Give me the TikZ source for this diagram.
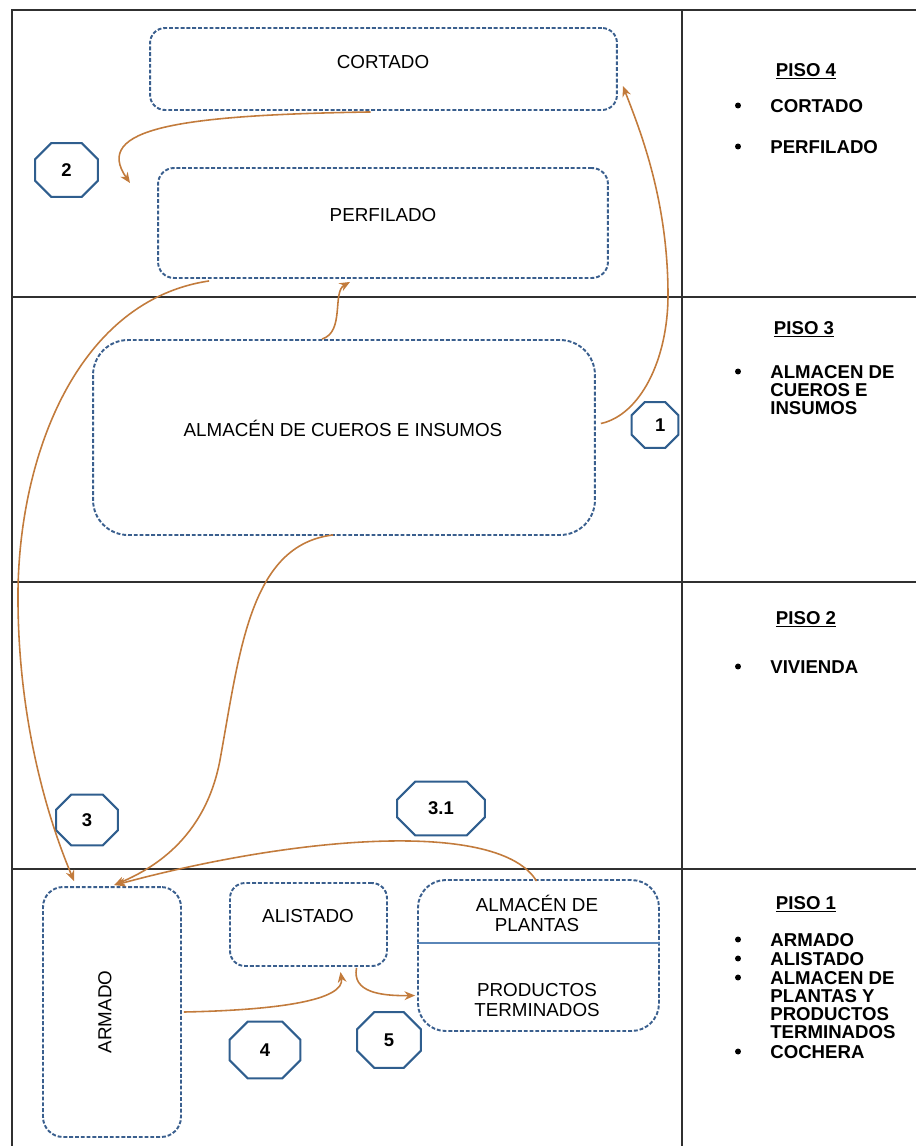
\documentclass[tikz,border=0pt]{standalone}
\usepackage{fontspec}
\setmainfont{Liberation Sans}
\usetikzlibrary{arrows.meta,calc}
\definecolor{boxblue}{HTML}{3A5F8E}
\definecolor{divblue}{HTML}{5A86B8}
\definecolor{octblue}{HTML}{2F5E8E}
\definecolor{arr}{HTML}{C27B3C}
\definecolor{gridc}{HTML}{303030}
\newcommand\octdraw[2]{\draw[octline] ($(#1.north west)+(#2,0)$) -- ($(#1.north east)+(-#2,0)$) -- ($(#1.north east)+(0,#2)$) -- ($(#1.south east)+(0,-#2)$) -- ($(#1.south east)+(-#2,0)$) -- ($(#1.south west)+(#2,0)$) -- ($(#1.south west)+(0,-#2)$) -- ($(#1.north west)+(0,#2)$) -- cycle;}
\begin{document}
\begin{tikzpicture}[x=0.02cm,y=-0.02cm,
  gridline/.style={draw=gridc,line width=0.9pt},
  pbox/.style={draw=boxblue,line width=1.1pt,dash pattern=on 2.2pt off 1.1pt,rectangle,inner sep=0pt},
  blbl/.style={font=\fontsize{10.7}{11.4}\selectfont,inner sep=0pt,align=center},
  oct/.style={rectangle,font=\bfseries\fontsize{10.5}{12}\selectfont,inner sep=0pt},
  octline/.style={draw=octblue,line width=1.2pt,line join=miter},
  flow/.style={draw=arr,line width=0.9pt,-{Stealth[length=6pt,width=5pt]}},
  rhead/.style={font=\bfseries\fontsize{10.6}{10.5}\selectfont,inner sep=0pt,anchor=base},
  ritem/.style={font=\bfseries\fontsize{10.6}{10.5}\selectfont,inner sep=0pt,anchor=base west},
  bul/.style={circle,fill=black,inner sep=0pt,minimum size=3.4pt}]

\useasboundingbox (0,0) rectangle (916,1146);

% table grid
\draw[gridline] (12,1146) -- (12,10) -- (916,10);
\draw[gridline] (682,10) -- (682,1146);
\draw[gridline] (12,297) -- (916,297);
\draw[gridline] (12,582) -- (916,582);
\draw[gridline] (12,869) -- (916,869);

% process boxes
\node[pbox,rounded corners=0.3cm,minimum width=9.34cm,minimum height=1.64cm] (cort) at (383.5,69) {};
\node[blbl] (cortt) at (383,62) {CORTADO};
\node[pbox,rounded corners=0.32cm,minimum width=9.0cm,minimum height=2.2cm] (perf) at (383,223) {};
\node[blbl] (perft) at (383,215) {PERFILADO};
\node[pbox,rounded corners=0.7cm,minimum width=10.04cm,minimum height=3.9cm] (alm) at (344,437.5) {};
\node[blbl] (almt) at (343,428) {ALMACÉN DE CUEROS E INSUMOS};
\node[pbox,rounded corners=0.4cm,minimum width=2.76cm,minimum height=5.0cm] (arm) at (112,1012) {};
\node[blbl,rotate=90] (armt) at (105,1012) {ARMADO};
\node[pbox,rounded corners=0.3cm,minimum width=3.14cm,minimum height=1.66cm] (ali) at (308.5,924.5) {};
\node[blbl] (alit) at (308,916) {ALISTADO};
\node[pbox,rounded corners=0.55cm,minimum width=4.82cm,minimum height=3.02cm] (plan) at (538.5,955.5) {};
\draw[draw=divblue,line width=1pt] (plan.west |- 0,943) -- (plan.east |- 0,943);
\node[blbl] (plant) at (537,913) {ALMACÉN DE\\PLANTAS};
\node[blbl] (prodt) at (537,1000) {PRODUCTOS\\TERMINADOS};

% step markers
\node[oct,minimum width=0.92cm,minimum height=0.9cm] (o1) at (655,425) {\phantom{0}1};
\octdraw{o1}{13}
\node[oct,minimum width=1.24cm,minimum height=1.06cm] (o2) at (66.5,170) {2};
\octdraw{o2}{16}
\node[oct,minimum width=1.22cm,minimum height=1.0cm] (o3) at (87,820) {3};
\octdraw{o3}{15}
\node[oct,minimum width=1.74cm,minimum height=1.06cm] (o31) at (441,808.5) {3.1};
\octdraw{o31}{18}
\node[oct,minimum width=1.4cm,minimum height=1.12cm] (o4) at (265,1050) {4};
\octdraw{o4}{18}
\node[oct,minimum width=1.26cm,minimum height=1.1cm] (o5) at (389,1040) {5};
\octdraw{o5}{17}

% flows
\coordinate (c2) at (130,183);
\draw[flow] ($(alm.east)+(5,-14)$) .. controls (640,415) and (668,360) .. (668,295)
   .. controls (668,200) and (640,130) .. ($(cort.east)+(5,17)$);
\draw[flow] ($(cort.south)+(-13,1)$) .. controls (180,115) and (92,128) .. (c2);
\draw[flow] ($(perf.south west)+(52,2)$) .. controls (80,300) and (20,450) .. (18,590)
   .. controls (17,700) and (40,800) .. ($(arm.north west)+(32,-5)$);
\draw[flow] ($(alm.south)+(-11,-1)$) .. controls (250,545) and (240,650) .. (220,760)
   .. controls (205,840) and (150,870) .. ($(arm.north)+(2,-1)$);
\draw[flow] ($(plan.north)+(-2,2)$) .. controls (500,820) and (300,835) .. ($(arm.north)+(3,-1)$);
\draw[flow] ($(alm.north)+(-22,0)$) .. controls (345,332) and (332,292) .. ($(perf.south)+(-33,3)$);
\draw[flow] ($(arm.east)+(2,0)$) .. controls (280,1010) and (345,1000) .. ($(ali.south)+(32,5)$);
\draw[flow] ($(ali.south)+(48,1)$) .. controls (352,992) and (380,996) .. ($(plan.west)+(-2,40)$);

% right column
\node[rhead] (h4) at (806,76) {\underline{PISO 4}};
\node[bul] (b41) at (738,105.5) {};
\node[ritem] (i41) at (770,112) {CORTADO};
\node[bul] (b42) at (738,146.5) {};
\node[ritem] (i42) at (770,153) {PERFILADO};

\node[rhead] (h3) at (804,334) {\underline{PISO 3}};
\node[bul] (b31) at (738,371.5) {};
\node[ritem] (i31a) at (770,378) {ALMACEN DE};
\node[ritem] (i31b) at (770,396) {CUEROS E};
\node[ritem] (i31c) at (770,414) {INSUMOS};

\node[rhead] (h2) at (806,624) {\underline{PISO 2}};
\node[bul] (b21) at (738,666.5) {};
\node[ritem] (i21) at (770,673) {VIVIENDA};

\node[rhead] (h1) at (806,909) {\underline{PISO 1}};
\node[bul] (b11) at (738,939.5) {};
\node[ritem] (i11) at (770,946) {ARMADO};
\node[bul] (b12) at (738,958.5) {};
\node[ritem] (i12) at (770,965) {ALISTADO};
\node[bul] (b13) at (738,977.5) {};
\node[ritem] (i13a) at (770,984) {ALMACEN DE};
\node[ritem] (i13b) at (770,1002) {PLANTAS Y};
\node[ritem] (i13c) at (770,1020) {PRODUCTOS};
\node[ritem] (i13d) at (770,1038) {TERMINADOS};
\node[bul] (b14) at (738,1051.5) {};
\node[ritem] (i14) at (770,1058) {COCHERA};
\end{tikzpicture}
\end{document}
